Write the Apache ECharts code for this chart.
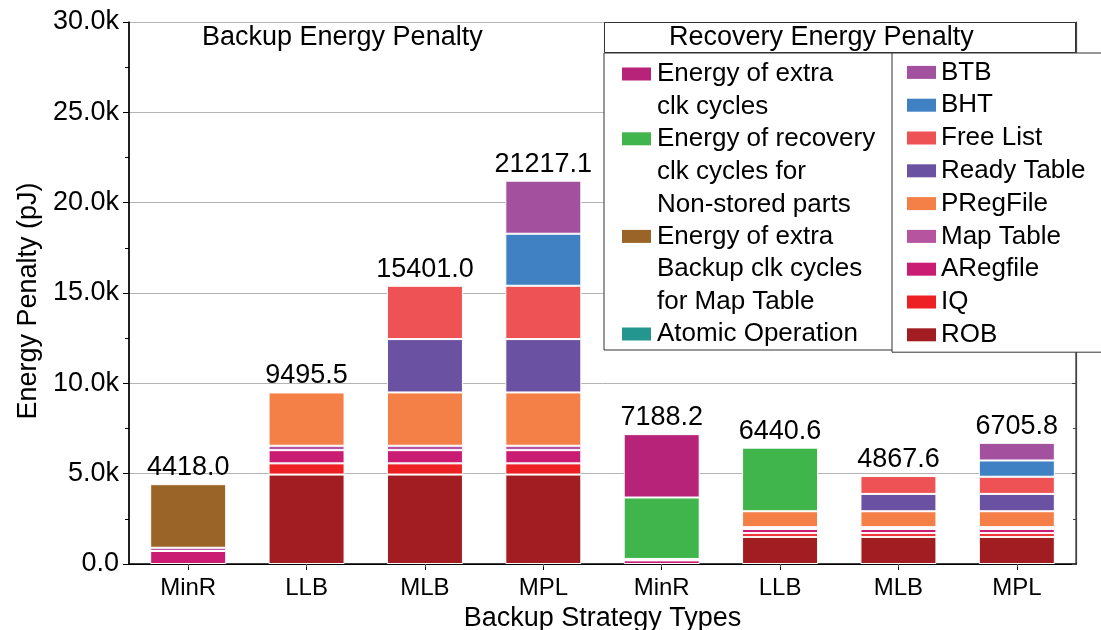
<!DOCTYPE html>
<html>
<head>
<meta charset="utf-8">
<script src="https://cdn.jsdelivr.net/npm/echarts@6/dist/echarts.min.js"></script>
<style>
  html, body { margin: 0; padding: 0; background: #fff; }
  #chart { width: 1101px; height: 630px; }
</style>
</head>
<body>
<div id="chart"></div>
<script>
// Strategies: the first four bars are backup penalties, the last four recovery penalties
const categories = ['MinR', 'LLB', 'MLB', 'MPL', 'MinR', 'LLB', 'MLB', 'MPL'];
const yTickLabels = ['0.0', '5.0k', '10.0k', '15.0k', '20.0k', '25.0k', '30.0k'];

// Energy per component (pJ), one entry per bar
const rob                 = [null, 4950, 4950, 4950, null, 1500, 1500, 1500];
const iq                  = [null, 620, 620, 620, null, 210, 210, 210];
const aRegfile            = [720, 730, 730, 730, 200, 230, 230, 230];
const mapTable            = [180, 245.5, 245.5, 245.5, 80, 100, 100, 100];
const pRegFile            = [null, 2950, 2950, 2950, null, 880, 880, 880];
const readyTable          = [null, null, 2952.8, 2952.8, null, null, 960, 960];
const freeList            = [null, null, 2952.7, 2952.7, null, null, 987.6, 950];
const bht                 = [null, null, null, 2880, null, null, null, 900];
const btb                 = [null, null, null, 2936.1, null, null, null, 975.8];
const atomicOperation     = [null, null, null, null, null, null, null, null];
const extraBackupMapTable = [3518, null, null, null, null, null, null, null];
const recoveryNonStored   = [null, null, null, null, 3400, 3520.6, null, null];
const extraClkCycles      = [null, null, null, null, 3508.2, null, null, null];

const FONT = 'Arial, "Liberation Sans", Helvetica, sans-serif';

// stacking order, bottom to top
const stackDefs = [
  { name: 'ROB', data: rob, color: '#a21d22' },
  { name: 'IQ', data: iq, color: '#ed2024' },
  { name: 'ARegfile', data: aRegfile, color: '#cb1c74' },
  { name: 'Map Table', data: mapTable, color: '#b7549f' },
  { name: 'PRegFile', data: pRegFile, color: '#f47f47' },
  { name: 'Ready Table', data: readyTable, color: '#6a51a1' },
  { name: 'Free List', data: freeList, color: '#ee5254' },
  { name: 'BHT', data: bht, color: '#4081c4' },
  { name: 'BTB', data: btb, color: '#a3519e' },
  { name: 'Atomic Operation', data: atomicOperation, color: '#22968f' },
  { name: 'Energy of extra Backup clk cycles for Map Table', data: extraBackupMapTable, color: '#9a6428' },
  { name: 'Energy of recovery clk cycles for Non-stored parts', data: recoveryNonStored, color: '#3fb54b' },
  { name: 'Energy of extra clk cycles', data: extraClkCycles, color: '#b8237a' }
];

// legend columns
const leftLegendNames = [
  'Energy of extra clk cycles',
  'Energy of recovery clk cycles for Non-stored parts',
  'Energy of extra Backup clk cycles for Map Table',
  'Atomic Operation'
];
const leftLegendLines = [
  ['Energy of extra', 'clk cycles'],
  ['Energy of recovery', 'clk cycles for', 'Non-stored parts'],
  ['Energy of extra', 'Backup clk cycles', 'for Map Table'],
  ['Atomic Operation']
];
const rightLegendNames = ['BTB', 'BHT', 'Free List', 'Ready Table', 'PRegFile', 'Map Table', 'ARegfile', 'IQ', 'ROB'];

// bar totals printed on top of each stack
const totals = categories.map((_, i) =>
  stackDefs.reduce((s, d) => s + (d.data[i] == null ? 0 : d.data[i]), 0));

const LINE_H = 32.8;
const colorOf = name => stackDefs.find(d => d.name === name).color;

const leftRich = {
  g: { width: 6 },
  ind: { width: 35 },
  t: { fontSize: 26, lineHeight: LINE_H, color: '#000', fontFamily: FONT }
};
leftLegendNames.forEach((n, i) => {
  leftRich['s' + i] = { width: 29, height: 13, backgroundColor: colorOf(n), lineHeight: LINE_H };
});

const series = stackDefs.map(d => ({
  name: d.name,
  type: 'bar',
  stack: 'total',
  barWidth: 76,
  data: d.data,
  itemStyle: { color: d.color, borderColor: '#ffffff', borderWidth: 1 },
  emphasis: { disabled: true }
}));

series.push({
  name: 'total',
  type: 'bar',
  stack: 'total',
  barWidth: 76,
  data: categories.map(() => 0),
  itemStyle: { color: 'rgba(0,0,0,0)', borderWidth: 0 },
  label: {
    show: true,
    position: 'top',
    distance: 3,
    fontSize: 27,
    color: '#000',
    fontFamily: FONT,
    formatter: p => totals[p.dataIndex].toFixed(1)
  },
  emphasis: { disabled: true }
});

const chart = echarts.init(document.getElementById('chart'), null, { renderer: 'canvas' });

chart.setOption({
  animation: false,
  backgroundColor: '#fff',
  textStyle: { fontFamily: FONT },
  grid: { left: 129, right: 25, top: 22, bottom: 66, containLabel: false, outerBoundsMode: 'none' },
  title: [
    {
      text: 'Backup Energy Penalty',
      left: 202, top: 22, padding: 0,
      textStyle: { fontSize: 27, fontWeight: 'normal', color: '#000', lineHeight: 31, fontFamily: FONT }
    },
    {
      text: 'Recovery Energy Penalty',
      left: 604, top: 22, padding: [0, 102, 0, 65],
      borderColor: '#333', borderWidth: 1, backgroundColor: '#fff',
      textStyle: { fontSize: 27, fontWeight: 'normal', color: '#000', lineHeight: 31, fontFamily: FONT }
    }
  ],
  legend: [
    {
      orient: 'vertical', left: 604, top: 53,
      itemWidth: 0, itemHeight: 0, itemGap: 6,
      padding: [8, 18, 3, 12],
      borderColor: '#333', borderWidth: 1, backgroundColor: '#fff',
      selectedMode: false,
      data: leftLegendNames,
      formatter: name => {
        const idx = leftLegendNames.indexOf(name);
        return leftLegendLines[idx]
          .map((l, k) => (k === 0 ? '{s' + idx + '|}{g|}' : '{ind|}') + '{t|' + l + '}')
          .join('\n');
      },
      textStyle: { fontSize: 26, color: '#000', fontFamily: FONT, rich: leftRich }
    },
    {
      orient: 'vertical', left: 892, top: 53,
      itemWidth: 29, itemHeight: 13, itemGap: 0,
      icon: 'rect',
      padding: [3, 80, 1, 15],
      borderColor: '#333', borderWidth: 1, backgroundColor: '#fff',
      selectedMode: false,
      data: rightLegendNames,
      itemStyle: { borderWidth: 0 },
      textStyle: { fontSize: 26, lineHeight: LINE_H, color: '#000', fontFamily: FONT }
    }
  ],
  xAxis: [
    {
      type: 'category',
      data: categories,
      position: 'bottom',
      axisLine: { show: true, lineStyle: { color: '#000', width: 1.5 } },
      axisTick: { show: true, alignWithLabel: true, length: 6, lineStyle: { color: '#000' } },
      axisLabel: { interval: 0, fontSize: 24, color: '#000', margin: 12, fontFamily: FONT },
      splitLine: { show: true, interval: (i) => i === 4, lineStyle: { color: '#555', width: 1.5 } },
      name: 'Backup Strategy Types',
      nameLocation: 'middle',
      nameGap: 30,
      nameTextStyle: { fontSize: 27, color: '#000', fontFamily: FONT }
    },
    {
      type: 'category',
      data: categories,
      position: 'top',
      axisLine: { show: true, lineStyle: { color: '#000', width: 1 } },
      axisTick: { show: true, inside: true, alignWithLabel: true, length: 3, lineStyle: { color: '#555' } },
      axisLabel: { show: false },
      splitLine: { show: false }
    }
  ],
  yAxis: [
    {
      type: 'value',
      min: 0, max: 30000, interval: 5000,
      position: 'left',
      axisLine: { show: true, lineStyle: { color: '#000', width: 1.5 } },
      axisTick: { show: true, length: 6, lineStyle: { color: '#000' } },
      minorTick: { show: true, splitNumber: 2, length: 4, lineStyle: { color: '#000' } },
      axisLabel: {
        fontSize: 27, color: '#000', margin: 10, fontFamily: FONT,
        formatter: v => yTickLabels[Math.round(v / 5000)]
      },
      splitLine: { show: true, lineStyle: { color: '#b4b4b4', width: 1 } },
      name: 'Energy Penalty (pJ)',
      nameLocation: 'middle',
      nameGap: 84,
      nameTextStyle: { fontSize: 27, color: '#000', fontFamily: FONT, padding: [0, 16, 0, 0] }
    },
    {
      type: 'value',
      min: 0, max: 30000, interval: 5000,
      position: 'right',
      axisLine: { show: true, lineStyle: { color: '#444', width: 1.2 } },
      axisTick: { show: true, inside: true, length: 4, lineStyle: { color: '#444' } },
      minorTick: { show: true, splitNumber: 2, length: 3, lineStyle: { color: '#444' } },
      axisLabel: { show: false },
      splitLine: { show: false }
    }
  ],
  series: series
});
</script>
</body>
</html>
